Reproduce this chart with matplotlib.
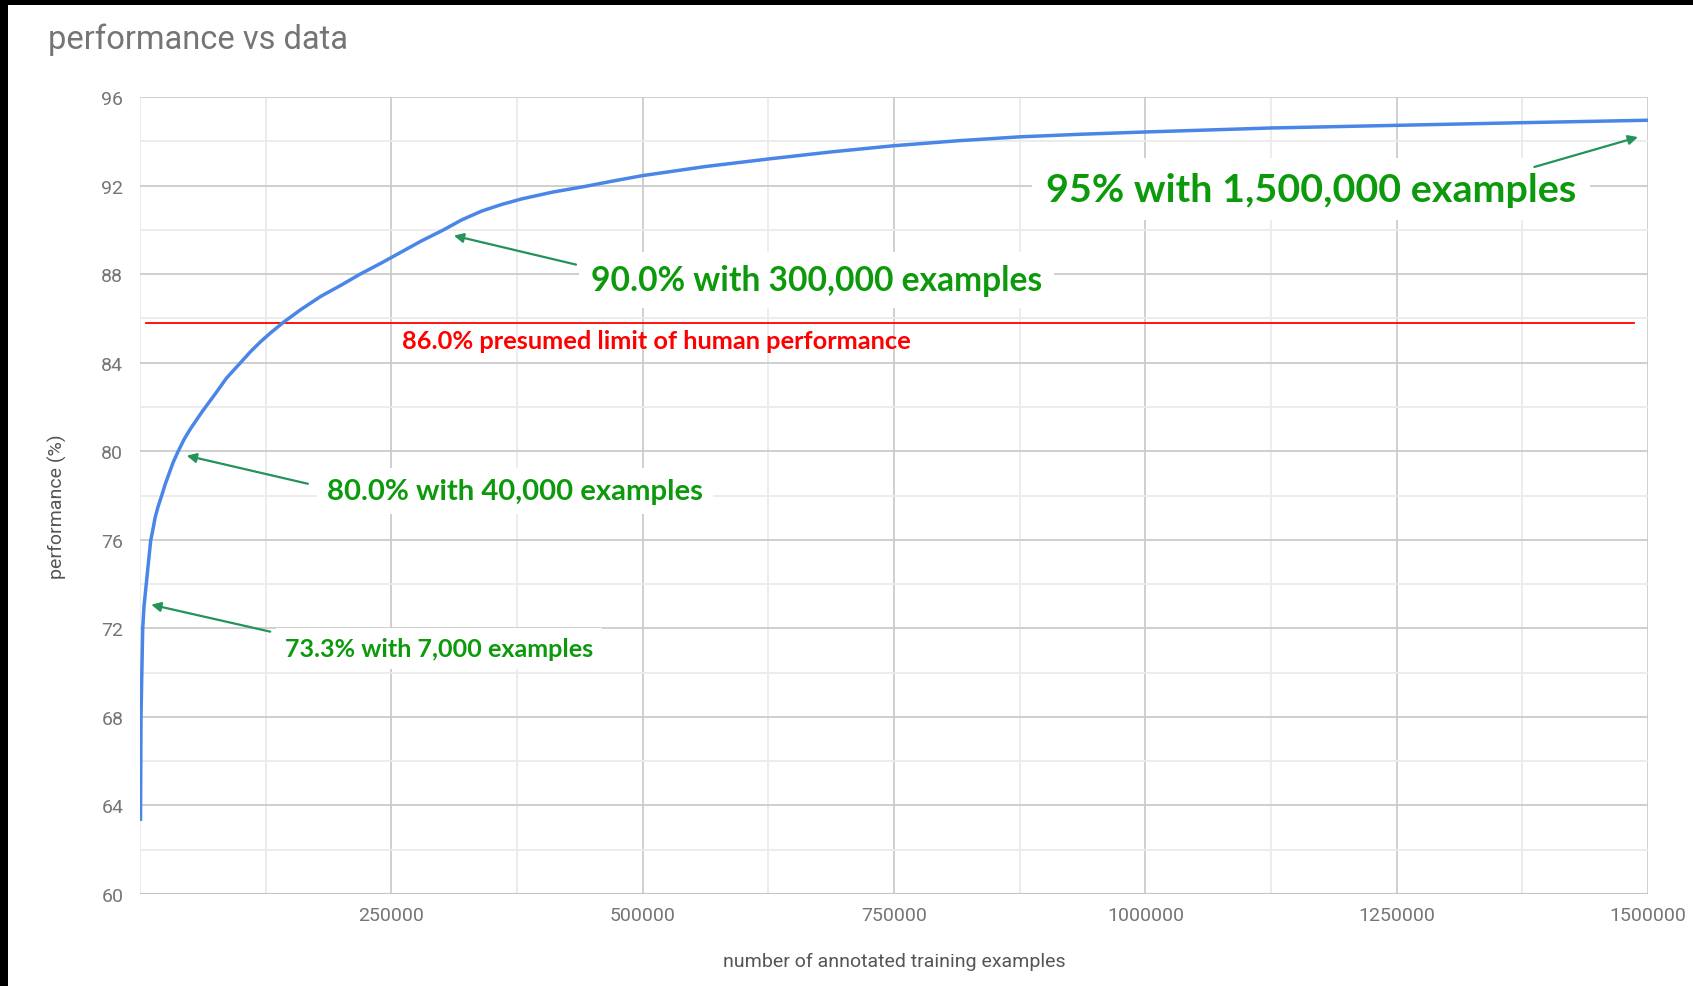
import matplotlib
matplotlib.use("Agg")
import matplotlib.pyplot as plt
from matplotlib.patches import Rectangle
from matplotlib.ticker import MultipleLocator, FixedLocator

# ---------------- data ----------------
examples = [500, 1000, 1700, 2700, 4000, 6000, 8000, 10600, 13000, 15000, 18000,
            21600, 25000, 29000, 33000, 38000, 44000, 50000, 62000, 75000, 86000,
            100000, 110000, 120000, 130000, 142000, 160000, 180000, 200000,
            219000, 240000, 260000, 280000, 302000, 320000, 340000, 360000,
            380000, 410000, 445000, 470000, 500000, 562500, 625000, 687500,
            750000, 812500, 875000, 937500, 1000000, 1125000, 1250000, 1375000,
            1500000]
performance = [63.3, 68.0, 69.7, 72.0, 73.0, 73.9, 74.8, 75.95, 76.5, 77.0, 77.5,
               78.0, 78.5, 79.0, 79.5, 80.0, 80.55, 81.0, 81.8, 82.6, 83.3,
               84.0, 84.5, 84.95, 85.35, 85.8, 86.4, 87.0, 87.5,
               88.0, 88.5, 89.0, 89.5, 90.0, 90.45, 90.85, 91.15,
               91.4, 91.7, 91.98, 92.2, 92.45, 92.86, 93.2, 93.52,
               93.8, 94.02, 94.2, 94.32, 94.42, 94.6, 94.72, 94.84,
               94.95]

human_limit = 85.8
human_limit_span = [6000, 1486000]

y_ticks = [60, 64, 68, 72, 76, 80, 84, 88, 92, 96]
x_ticks = [250000, 500000, 750000, 1000000, 1250000, 1500000]
x_tick_labels = ["250000", "500000", "750000", "1000000", "1250000", "1500000"]

title = "performance vs data"
x_label = "number of annotated training examples"
y_label = "performance (%)"

# annotations: text, text anchor (x, y), arrow tail, arrow head
ann_texts = ["95% with 1,500,000 examples",
             "90.0% with 300,000 examples",
             "80.0% with 40,000 examples",
             "73.3% with 7,000 examples"]
ann_text_pos = [(901400, 91.84), (448200, 87.73), (186300, 78.2), (144400, 71.1)]
ann_tail = [(1387000, 92.84), (433700, 88.43), (167000, 78.53), (129500, 71.85)]
ann_head = [(1490000, 94.19), (312200, 89.74), (46500, 79.8), (11150, 73.07)]
ann_target_px = [531, 453, 377, 308]

limit_text = "86.0% presumed limit of human performance"
limit_text_pos = (260500, 84.98)
limit_target_px = 512

# ---------------- figure ----------------
W, H = 1693, 987
fig = plt.figure(figsize=(W / 100, H / 100), dpi=100)
fig.patch.set_facecolor("white")

ax_l, ax_r, ax_t, ax_b = 140, 1648, 98, 895
ax = fig.add_axes([ax_l / W, (H - ax_b) / H, (ax_r - ax_l) / W, (ax_b - ax_t) / H])
ax.set_xlim(0, 1500000)
ax.set_ylim(60, 96)

for s in ax.spines.values():
    s.set_visible(False)

# grid
ax.yaxis.set_major_locator(FixedLocator(y_ticks))
ax.yaxis.set_minor_locator(MultipleLocator(2))
ax.xaxis.set_major_locator(FixedLocator(x_ticks))
ax.xaxis.set_minor_locator(MultipleLocator(125000))
ax.grid(True, which="major", color="#cccccc", lw=1.3, zorder=0)
ax.grid(True, which="minor", color="#ebebeb", lw=1.3, zorder=0)
ax.axhline(60, color="#c4c4c4", lw=1.5, zorder=1)
ax.set_axisbelow(True)

ax.set_yticks(y_ticks)
ax.set_yticklabels([str(v) for v in y_ticks])
ax.set_xticks(x_ticks)
ax.set_xticklabels(x_tick_labels)
ax.tick_params(which="both", length=0)
ax.tick_params(axis="y", pad=12, labelsize=14, labelcolor="#757575")
ax.tick_params(axis="x", pad=9, labelsize=14, labelcolor="#757575")
for lab in ax.get_xticklabels() + ax.get_yticklabels():
    lab.set_family("Roboto")

# curve
ax.plot(examples, performance, color="#4a86e8", lw=2.5, zorder=5,
        solid_capstyle="butt", solid_joinstyle="round")

# human limit
ax.plot(human_limit_span, [human_limit, human_limit], color="#ff0000", lw=1.3, zorder=4)

# labels
fig.text(48 / W, 1 - 40 / H, title, family="Roboto", fontsize=23.5,
         color="#757575", ha="left", va="center")
fig.text(894 / W, 1 - 962 / H, x_label, family="Roboto", fontsize=14,
         color="#555555", ha="center", va="center")
fig.text(57 / W, 1 - 507 / H, y_label, family="Roboto", fontsize=14,
         color="#555555", ha="center", va="center", rotation=90)

green = "#0c9a0c"
arrow_green = "#23935a"
texts = []
for txt, pos, tail, head in zip(ann_texts, ann_text_pos, ann_tail, ann_head):
    t = ax.text(pos[0], pos[1], txt, family="Lato", fontweight="bold",
                fontsize=20, color=green, ha="left", va="center", zorder=6,
                bbox=dict(boxstyle="square,pad=0.35", fc="white", ec="none"))
    texts.append(t)
    ax.annotate("", xy=head, xytext=tail, zorder=7,
                arrowprops=dict(arrowstyle="-|>", color=arrow_green, lw=1.6,
                                mutation_scale=14, shrinkA=0, shrinkB=0))
lt = ax.text(limit_text_pos[0], limit_text_pos[1], limit_text, family="Lato",
             fontweight="bold", fontsize=16, color="#ff0000", ha="left",
             va="center", zorder=6)

# fit text widths
fig.canvas.draw()
r = fig.canvas.get_renderer()
for t, target in zip(texts + [lt], ann_target_px + [limit_target_px]):
    w = t.get_window_extent(renderer=r).width
    t.set_fontsize(t.get_fontsize() * target / w)

# black borders of the screenshot
fig.add_artist(Rectangle((0, 1 - 6 / H), 1, 6 / H, transform=fig.transFigure,
                         fc="black", ec="none", zorder=10))
fig.add_artist(Rectangle((0, 0), 8 / W, 1, transform=fig.transFigure,
                         fc="black", ec="none", zorder=10))

fig.savefig("out.png", dpi=100, facecolor="white")
